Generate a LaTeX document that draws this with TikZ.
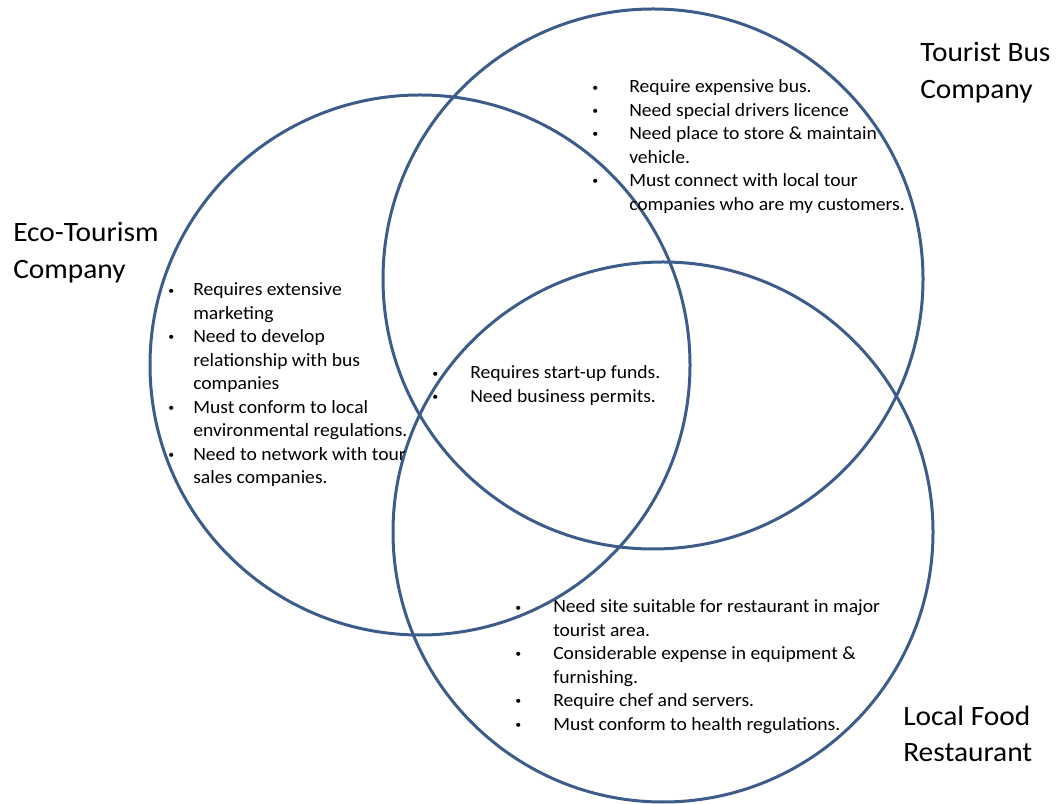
\documentclass[tikz,border=0pt]{standalone}
\usepackage{fontspec}
\setmainfont{Carlito}[FakeStretch=1.05]
\usepackage{tikz}
\usetikzlibrary{positioning}
\definecolor{ringblue}{RGB}{60,92,138}
\newcommand{\pt}{\raisebox{0.22ex}{\fontsize{8.5}{8.5}\selectfont\textbullet}}

\begin{document}
\begin{tikzpicture}[x=0.75pt, y=0.75pt,
    ring/.style={draw=ringblue, line width=2.25pt},
    heading/.style={anchor=base west, inner sep=0pt, font=\fontsize{21}{27.3}\selectfont},
    points/.style={anchor=base west, inner sep=0pt, font=\fontsize{14}{17.6}\selectfont}]
    \useasboundingbox (0,0) rectangle (1056,803);

    % the three circles
    \draw [ring] (420,438) circle (270);
    \draw [ring] (653,524) circle (270);
    \draw [ring] (663,271) circle (270);

    % Now the names:
    \node [heading] (econame) at (13,561) {\begin{tabular}[t]{@{}l@{}}Eco-Tourism\\Company\end{tabular}};
    \node [heading] (busname) at (920,741) {\begin{tabular}[t]{@{}l@{}}Tourist Bus\\Company\end{tabular}};
    \node [heading] (foodname) at (903,78) {\begin{tabular}[t]{@{}l@{}}Local Food\\Restaurant\end{tabular}};

    % and the lists
    \node [points] (buslist) at (592,710) {\begin{tabular}[t]{@{}p{27.75pt}@{}l@{}}
        \pt & Require expensive bus.\\
        \pt & Need special drivers licence\\
        \pt & Need place to store \& maintain\\
            & vehicle.\\
        \pt & Must connect with local tour\\
            & companies who are my customers.
    \end{tabular}};
    \node [points] (ecolist) at (168,507) {\begin{tabular}[t]{@{}p{18.75pt}@{}l@{}}
        \pt & Requires extensive\\
            & marketing\\
        \pt & Need to develop\\
            & relationship with bus\\
            & companies\\
        \pt & Must conform to local\\
            & environmental regulations.\\
        \pt & Need to network with tour\\
            & sales companies.
    \end{tabular}};
    \node [points] (midlist) at (432,424) {\begin{tabular}[t]{@{}p{28.5pt}@{}l@{}}
        \pt & Requires start-up funds.\\
        \pt & Need business permits.
    \end{tabular}};
    \node [points] (foodlist) at (515,190) {\begin{tabular}[t]{@{}p{28.5pt}@{}l@{}}
        \pt & Need site suitable for restaurant in major\\
            & tourist area.\\
        \pt & Considerable expense in equipment \&\\
            & furnishing.\\
        \pt & Require chef and servers.\\
        \pt & Must conform to health regulations.
    \end{tabular}};
\end{tikzpicture}
\end{document}
